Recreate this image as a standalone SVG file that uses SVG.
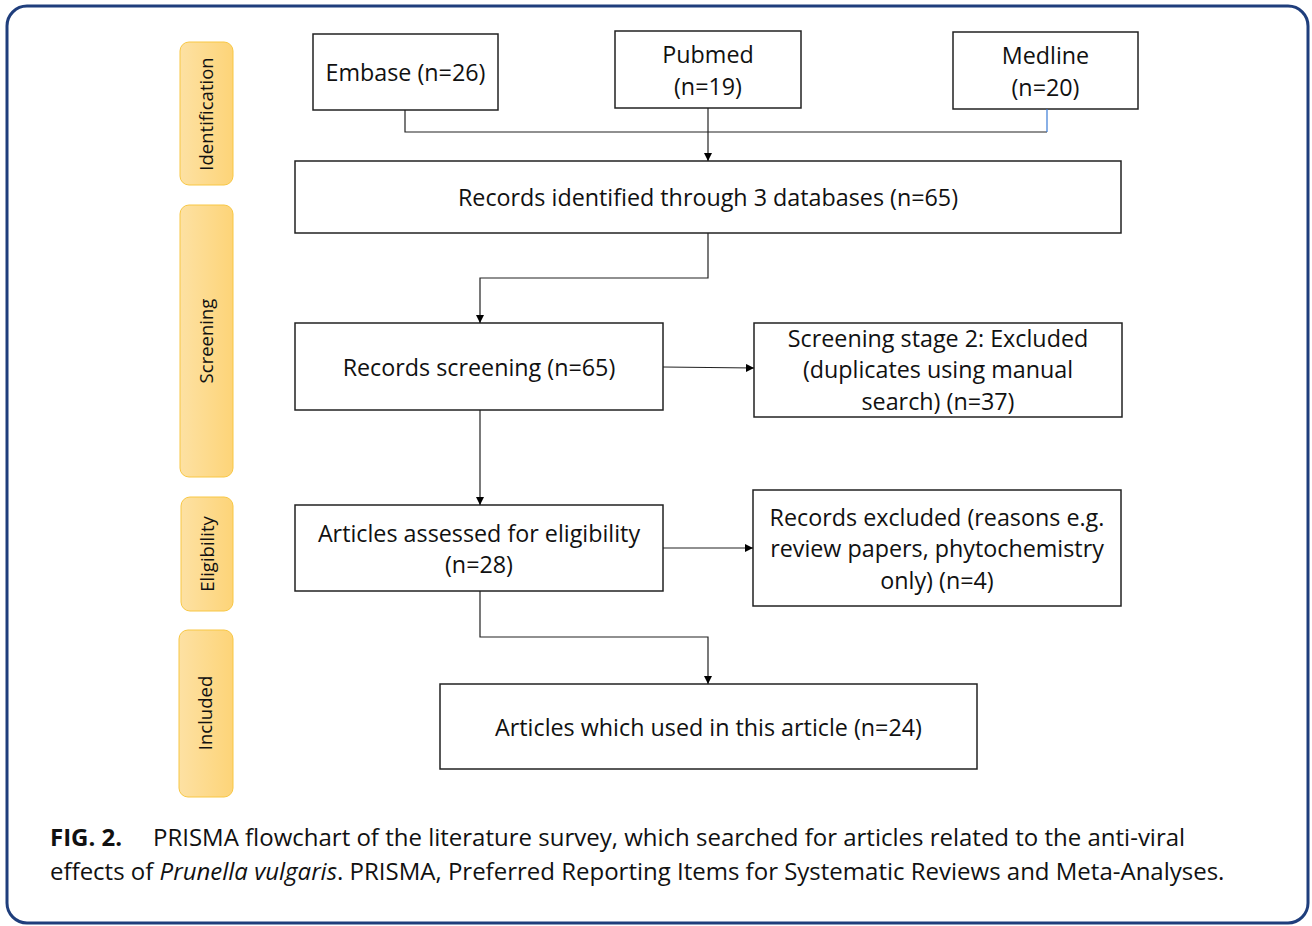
<svg xmlns="http://www.w3.org/2000/svg" width="1312" height="926" viewBox="0 0 1312 926">
<defs>
<linearGradient id="stg" x1="0" y1="0" x2="1" y2="0">
<stop offset="0" stop-color="#fde1a3"/>
<stop offset="1" stop-color="#fdd478"/>
</linearGradient>
<marker id="ah" viewBox="0 0 10 10" refX="10" refY="5" markerWidth="8" markerHeight="8" markerUnits="userSpaceOnUse" orient="auto">
<path d="M0,0 L10,5 L0,10 z" fill="#000"/>
</marker>
</defs>
<style>
.stage{fill:url(#stg);stroke:#f8c744;stroke-width:1}
.box{fill:#fff;stroke:#222;stroke-width:1.5}
.t{font-family:"Open Sans","Liberation Sans",sans-serif;font-size:23.3px;fill:#111;text-anchor:middle}
.st{font-family:"Open Sans","Liberation Sans",sans-serif;font-size:18.5px;fill:#111;text-anchor:middle}
.c{fill:none;stroke:#222;stroke-width:1.2}
.cap{font-family:"Open Sans","Liberation Sans",sans-serif;font-size:24px;fill:#111}
</style>
<rect x="7" y="6" width="1301" height="917" rx="20" fill="#fff" stroke="#1f3e7c" stroke-width="3"/>
<g id="stage-identification"><rect class="stage" x="180" y="42" width="53" height="143" rx="9"/><text class="st" transform="translate(213,114) rotate(-90)">Identification</text></g>
<g id="stage-screening"><rect class="stage" x="180" y="205" width="53" height="272" rx="9"/><text class="st" transform="translate(213,341) rotate(-90)">Screening</text></g>
<g id="stage-eligibility"><rect class="stage" x="181" y="497" width="52" height="114" rx="9"/><text class="st" transform="translate(214,554) rotate(-90)">Eligibility</text></g>
<g id="stage-included"><rect class="stage" x="179" y="630" width="54" height="167" rx="9"/><text class="st" transform="translate(212,713) rotate(-90)">Included</text></g>
<g id="embase"><rect class="box" x="313" y="34" width="185" height="76"/><text class="t" x="405.500" y="81">Embase (n=26)</text></g>
<g id="pubmed"><rect class="box" x="615" y="31" width="186" height="77"/><text class="t" x="708" y="63">Pubmed</text><text class="t" x="708" y="95">(n=19)</text></g>
<g id="medline"><rect class="box" x="953" y="32" width="185" height="77"/><text class="t" x="1045.500" y="64">Medline</text><text class="t" x="1045.500" y="96">(n=20)</text></g>
<g id="identified"><rect class="box" x="295" y="161" width="826" height="72"/><text class="t" x="708" y="206">Records identified through 3 databases (n=65)</text></g>
<g id="screening"><rect class="box" x="295" y="323" width="368" height="87"/><text class="t" x="479" y="376">Records screening (n=65)</text></g>
<g id="excluded1"><rect class="box" x="754" y="323" width="368" height="94"/><text class="t" x="938" y="347">Screening stage 2: Excluded</text><text class="t" x="938" y="378">(duplicates using manual</text><text class="t" x="938" y="410">search) (n=37)</text></g>
<g id="eligibility"><rect class="box" x="295" y="505" width="368" height="86"/><text class="t" x="479" y="542">Articles assessed for eligibility</text><text class="t" x="479" y="573">(n=28)</text></g>
<g id="excluded2"><rect class="box" x="753" y="490" width="368" height="116"/><text class="t" x="937" y="526">Records excluded (reasons e.g.</text><text class="t" x="937" y="557">review papers, phytochemistry</text><text class="t" x="937" y="589">only) (n=4)</text></g>
<g id="included"><rect class="box" x="440" y="684" width="537" height="85"/><text class="t" x="708.500" y="736">Articles which used in this article (n=24)</text></g>
<g id="connectors">
<polyline class="c" points="405,110 405,132 1047,132"/>
<line x1="1047" y1="109" x2="1047" y2="132" stroke="#3a7bd5" stroke-width="1.2"/>
<line class="c" x1="708" y1="108" x2="708" y2="161" marker-end="url(#ah)"/>
<polyline class="c" points="708,233 708,278 480,278 480,323" marker-end="url(#ah)"/>
<line class="c" x1="663" y1="367" x2="754" y2="368" marker-end="url(#ah)"/>
<line class="c" x1="480" y1="410" x2="480" y2="505" marker-end="url(#ah)"/>
<line class="c" x1="663" y1="548" x2="753" y2="548" marker-end="url(#ah)"/>
<polyline class="c" points="480,591 480,637 708,637 708,684" marker-end="url(#ah)"/>
</g>
<g id="caption">
<text class="cap" x="50" y="846"><tspan font-weight="bold">FIG. 2.</tspan><tspan x="153">PRISMA flowchart of the literature survey, which searched for articles related to the anti-viral</tspan></text>
<text class="cap" x="50" y="880">effects of <tspan font-style="italic">Prunella vulgaris</tspan>. PRISMA, Preferred Reporting Items for Systematic Reviews and Meta-Analyses.</text>
</g>
</svg>
